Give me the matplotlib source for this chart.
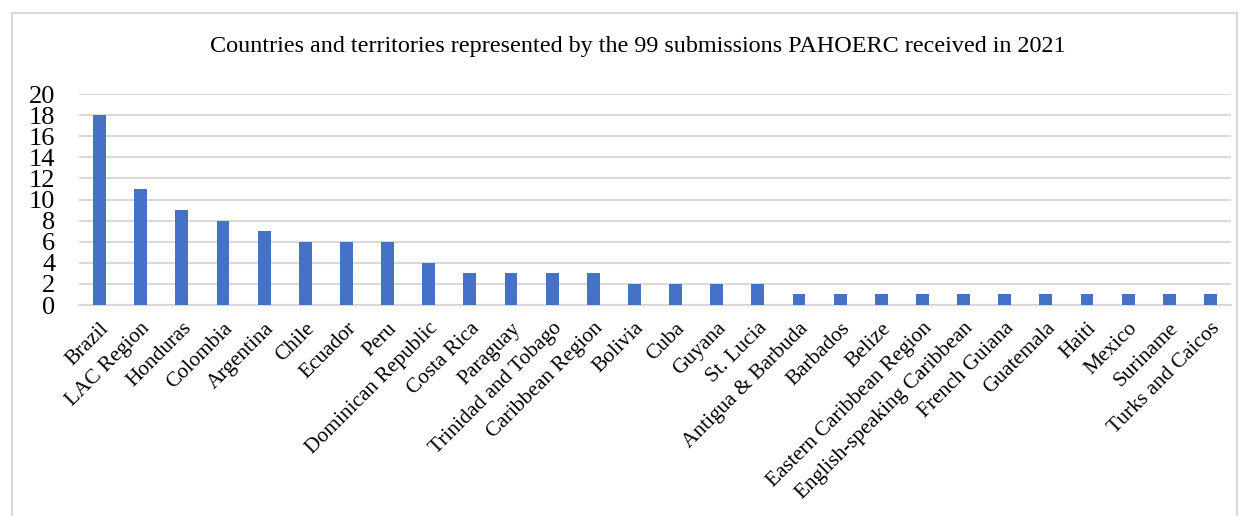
import matplotlib.pyplot as plt
from matplotlib.patches import Rectangle
import numpy as np

FIGSIZE = (12.49, 5.16)

countries = ["Brazil", "LAC Region", "Honduras", "Colombia", "Argentina", "Chile",
             "Ecuador", "Peru", "Dominican Republic", "Costa Rica", "Paraguay",
             "Trinidad and Tobago", "Caribbean Region", "Bolivia", "Cuba", "Guyana",
             "St. Lucia", "Antigua & Barbuda", "Barbados", "Belize",
             "Eastern Caribbean Region", "English-speaking Caribbean", "French Guiana",
             "Guatemala", "Haiti", "Mexico", "Suriname", "Turks and Caicos"]
submissions = [18, 11, 9, 8, 7, 6, 6, 6, 4, 3, 3, 3, 3, 2, 2, 2, 2,
               1, 1, 1, 1, 1, 1, 1, 1, 1, 1, 1]
yticks = list(range(0, 21, 2))

plt.rcParams['font.family'] = ['Liberation Serif', 'DejaVu Serif']

fig = plt.figure(figsize=FIGSIZE, dpi=100)
ax = fig.add_axes([79 / 1249, 1 - 305 / 516, (1231 - 79) / 1249, (305 - 94) / 516])

x = np.arange(len(countries))
ax.bar(x, submissions, width=0.31, color="#4472C4", zorder=3)

ax.set_xlim(-0.5, len(countries) - 0.5)
ax.set_ylim(0, 20)
ax.set_yticks(yticks)
ax.set_yticklabels([str(v) for v in yticks], fontsize=19)
ax.tick_params(axis='y', length=0, pad=17)
ax.tick_params(axis='x', length=0, pad=10)
ax.set_xticks(x)
ax.set_xticklabels(countries, rotation=45, ha='right', va='top',
                   rotation_mode='anchor', fontsize=15.4)
ax.yaxis.grid(True, color="#D9D9D9", linewidth=1.5, zorder=0)
for side in ["top", "right", "left"]:
    ax.spines[side].set_visible(False)
ax.spines["bottom"].set_color("#D9D9D9")
ax.spines["bottom"].set_linewidth(1.5)

fig.text(638 / 1249, 1 - 47 / 516,
         "Countries and territories represented by the 99 submissions PAHOERC received in 2021",
         ha='center', va='center', fontsize=17.4)

fig.patches.append(Rectangle((12 / 1249, -0.05), (1237 - 12) / 1249, 1.05 - 13 / 516,
                             transform=fig.transFigure, fill=False,
                             edgecolor="#D9D9D9", linewidth=1.5))

fig.savefig("out.png", dpi=100)
plt.close()
